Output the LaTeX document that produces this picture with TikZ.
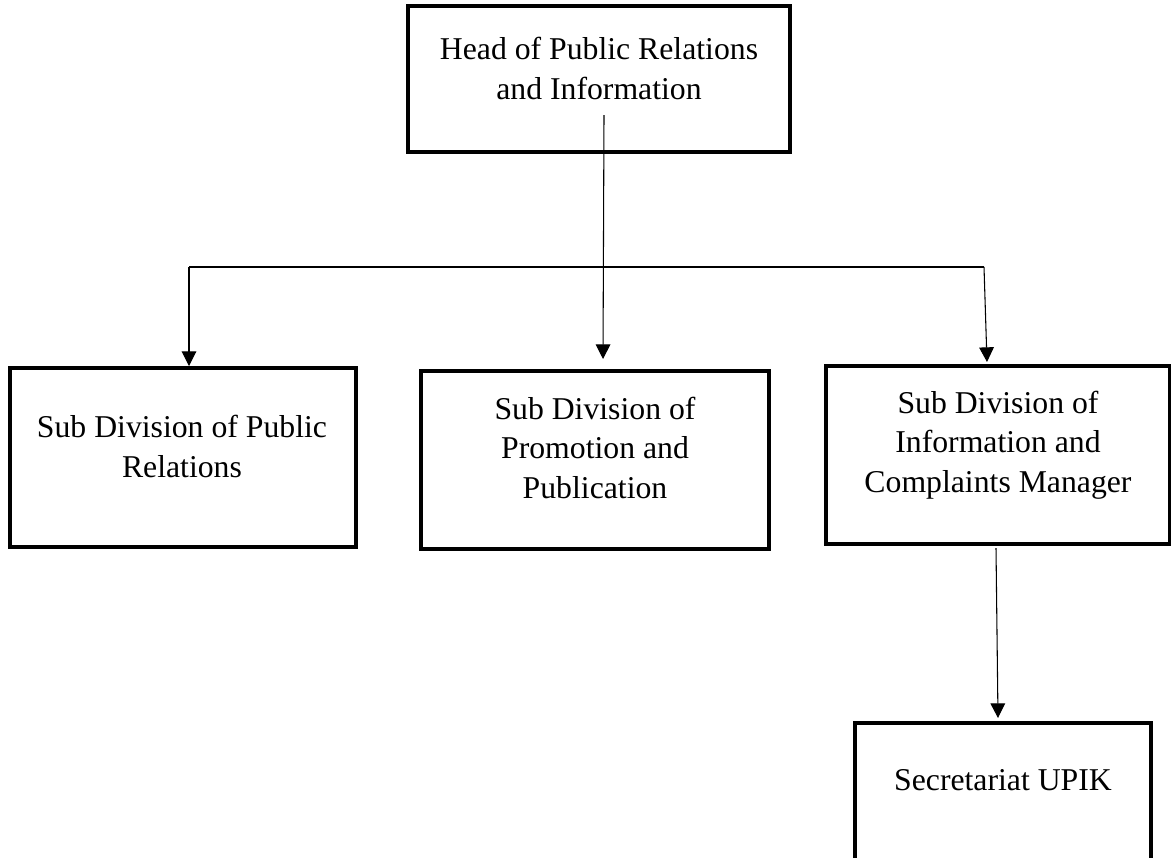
\documentclass[tikz,border=0pt]{standalone}
\usepackage{fontspec}
\setmainfont{Liberation Serif}
\usetikzlibrary{arrows.meta}
\begin{document}
\begin{tikzpicture}[x=0.75pt,y=-0.75pt,
  box/.style={draw=black,line width=2.4pt,inner sep=0pt,fill=none},
  txt/.style={align=center,inner sep=0pt,anchor=base,font=\fontsize{23.8}{29.3}\selectfont},
  conn/.style={draw=black,line width=0.8pt},
  arr/.style={conn,-{Triangle[width=11pt,length=11pt]}}]
\useasboundingbox (0,0) rectangle (1171,857);
\clip (0,0) rectangle (1171,857);
% boxes
\node[box,minimum width=382*0.75pt,minimum height=146*0.75pt] (head) at (599,79) {};
\node[box,minimum width=346*0.75pt,minimum height=179*0.75pt] (pr) at (183,457.5) {};
\node[box,minimum width=348*0.75pt,minimum height=178*0.75pt] (pp) at (595,460) {};
\node[box,minimum width=344*0.75pt,minimum height=178*0.75pt] (icm) at (998,455) {};
\node[box,minimum width=296*0.75pt,minimum height=200*0.75pt] (upik) at (1003,823) {};
% texts (anchored at the baseline of the last line)
\node[txt] (headtxt) at (599,99) {Head of Public Relations\\and Information};
\node[txt] (prtxt) at (182,477) {Sub Division of Public\\Relations};
\node[txt] (pptxt) at (595,498) {Sub Division of\\Promotion and\\Publication};
\node[txt] (icmtxt) at (998,492) {Sub Division of\\Information and\\Complaints Manager};
\node[txt] (upiktxt) at (1003,790) {Secretariat UPIK};
% connector coordinates
\coordinate (hs) at (604,115);
\coordinate (ht) at (603,359);
\coordinate (bl) at (189,267);
\coordinate (br) at (984,267);
\coordinate (lt) at (189,366);
\coordinate (rt) at (987,362);
\coordinate (is) at (996,548);
\coordinate (it) at (998,718);
% connectors
\draw[arr] (hs) -- (ht);
\draw[conn] (bl) -- (br);
\draw[arr] (bl) -- (lt);
\draw[arr] (br) -- (rt);
\draw[arr] (is) -- (it);
\end{tikzpicture}
\end{document}
